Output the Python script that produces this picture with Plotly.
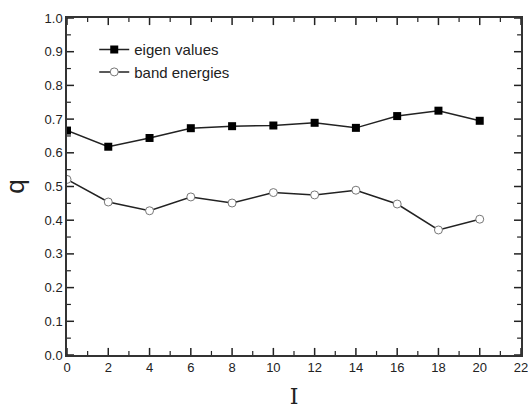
import plotly.graph_objects as go

x_vals = [0, 2, 4, 6, 8, 10, 12, 14, 16, 18, 20]
eigen_values = [0.666, 0.618, 0.644, 0.673, 0.679, 0.681, 0.689, 0.674, 0.709, 0.725, 0.695]
band_energies = [0.521, 0.454, 0.428, 0.469, 0.451, 0.482, 0.475, 0.489, 0.448, 0.371, 0.403]
x_ticks = list(range(0, 23, 2))
x_minor = list(range(1, 22, 2))
y_ticks = [i / 10 for i in range(11)]
y_minor = [i / 10 + 0.05 for i in range(10)]
y_labels = [f"{v:.1f}" for v in y_ticks]

X_RANGE = [0, 22]
Y_RANGE = [0, 1.0]

fig = go.Figure()


def tick_trace(xt, yt, lx, ly, width):
    xs, ys = [], []
    for v in xt:
        xs += [v, v, None, v, v, None]
        ys += [Y_RANGE[0], Y_RANGE[0] + ly, None, Y_RANGE[1], Y_RANGE[1] - ly, None]
    for v in yt:
        xs += [X_RANGE[0], X_RANGE[0] + lx, None, X_RANGE[1], X_RANGE[1] - lx, None]
        ys += [v, v, None, v, v, None]
    return go.Scatter(x=xs, y=ys, mode="lines", showlegend=False, hoverinfo="skip",
                      cliponaxis=False, line=dict(color="#222222", width=width))


# inside tick marks on all four sides (lengths in axis units ~7 px / ~4 px)
fig.add_trace(tick_trace(x_ticks, y_ticks, 0.34, 0.021, 1.5))
fig.add_trace(tick_trace(x_minor, y_minor, 0.19, 0.012, 1.2))

fig.add_trace(go.Scatter(
    x=x_vals, y=eigen_values, mode="lines+markers", name="eigen values",
    line=dict(color="#222222", width=1.5),
    marker=dict(symbol="square", size=8, color="#000000"),
))
fig.add_trace(go.Scatter(
    x=x_vals, y=band_energies, mode="lines+markers", name="band energies",
    line=dict(color="#222222", width=1.5),
    marker=dict(symbol="circle", size=8, color="white", line=dict(color="#777777", width=1)),
))

tick_font = dict(family="Liberation Sans, Arial", size=13, color="#222222")

fig.update_xaxes(
    range=X_RANGE, tickmode="array", tickvals=x_ticks, ticktext=[str(v) for v in x_ticks],
    showgrid=False, zeroline=False, showline=True, linecolor="#333333", linewidth=1.5,
    mirror=True, ticks="", tickfont=tick_font, automargin=False, ticklabeloverflow="allow",
    title=dict(text="I", font=dict(family="DejaVu Serif", size=22, color="#222222"), standoff=14),
)
fig.update_yaxes(
    range=Y_RANGE, tickmode="array", tickvals=y_ticks, ticktext=y_labels,
    showgrid=False, zeroline=False, showline=True, linecolor="#333333", linewidth=1.5,
    mirror=True, ticks="", tickfont=tick_font, automargin=False,
    title=dict(text="q", font=dict(family="Liberation Sans, Arial", size=26, color="#222222"), standoff=12),
)

fig.update_layout(
    width=528, height=412,
    margin=dict(l=67, r=7, t=18, b=57),
    plot_bgcolor="white", paper_bgcolor="white",
    showlegend=True,
    legend=dict(x=0.06, y=0.955, xanchor="left", yanchor="top", bgcolor="rgba(0,0,0,0)",
                font=dict(family="Liberation Sans, Arial", size=15, color="#222222"),
                tracegroupgap=0),
)

fig.write_html("out.html")
